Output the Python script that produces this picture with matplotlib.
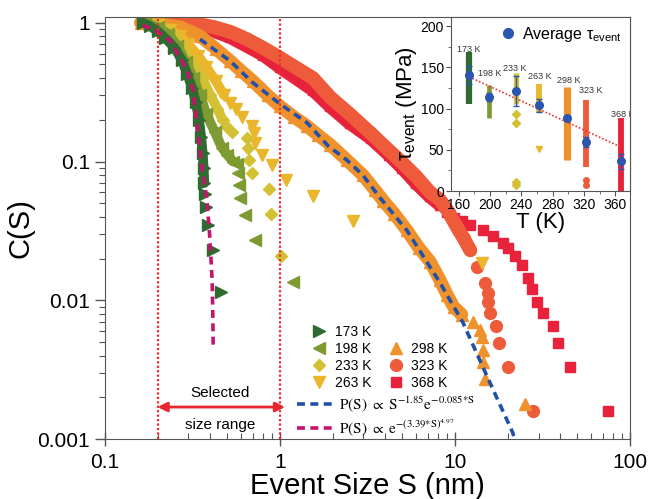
import numpy as np
import matplotlib
matplotlib.use('Agg')
import matplotlib.pyplot as plt
from matplotlib import ticker
from matplotlib.lines import Line2D

plt.rcParams['font.family'] = ['Liberation Sans', 'DejaVu Sans']
plt.rcParams['mathtext.fontset'] = 'custom'
plt.rcParams['mathtext.rm'] = 'Liberation Sans'
plt.rcParams['mathtext.it'] = 'Liberation Sans'
plt.rcParams['mathtext.bf'] = 'Liberation Sans:bold'

# ---- main panel: C(S) curves ----
# the first n_band points form the dense band, the rest are the sparse tail
s_173 = [0.165, 0.18, 0.2, 0.22, 0.25, 0.275, 0.295, 0.315, 0.33, 0.345, 0.355, 0.362, 0.367, 0.37,
         0.375, 0.38, 0.39, 0.415, 0.46]
c_173 = [1.0, 0.95, 0.87, 0.78, 0.66, 0.54, 0.43, 0.34, 0.27, 0.2, 0.15, 0.115, 0.09, 0.07,
         0.058, 0.047, 0.035, 0.023, 0.0115]
n_band_173 = 14

s_198 = [0.17, 0.2, 0.23, 0.26, 0.29, 0.32, 0.35, 0.38, 0.425, 0.466, 0.5, 0.54,
         0.57, 0.575, 0.58, 0.59, 0.63, 0.72, 1.19]
c_198 = [1.0, 0.93, 0.83, 0.68, 0.52, 0.4, 0.3, 0.22, 0.163, 0.126, 0.112, 0.1,
         0.096, 0.083, 0.068, 0.055, 0.041, 0.027, 0.0136]
n_band_198 = 12

s_233 = [0.175, 0.2, 0.23, 0.27, 0.32, 0.36, 0.4, 0.44, 0.47,
         0.49, 0.53, 0.65, 0.66, 0.67, 0.69, 0.87, 0.89, 1.01]
c_233 = [1.0, 0.95, 0.87, 0.71, 0.5, 0.4, 0.3, 0.24, 0.2,
         0.18, 0.163, 0.148, 0.126, 0.103, 0.083, 0.063, 0.042, 0.021]
n_band_233 = 9

s_263 = [0.17, 0.2, 0.235, 0.27, 0.3, 0.34, 0.38, 0.43, 0.48,
         0.52, 0.56, 0.61, 0.69, 0.71, 0.72, 0.79, 0.9, 1.09, 1.54, 2.6, 14.3]
c_263 = [1.0, 0.96, 0.89, 0.8, 0.7, 0.58, 0.48, 0.38, 0.3,
         0.265, 0.24, 0.21, 0.18, 0.16, 0.137, 0.112, 0.095, 0.074, 0.056, 0.037, 0.0187]
n_band_263 = 9

s_298 = [0.16, 0.2, 0.27, 0.35, 0.43, 0.52, 0.6, 0.7, 0.85, 1.0, 1.2, 1.43, 1.65, 1.94, 2.4,
         2.97, 3.5, 3.9, 4.5, 5.3, 6.2, 7.2, 8.2, 9.0, 9.8, 10.9,
         12.6, 13.9, 14.2, 14.4, 14.5, 14.8, 25.0]
c_298 = [1.0, 0.98, 0.93, 0.8, 0.65, 0.53, 0.45, 0.38, 0.3, 0.25, 0.21, 0.18, 0.155, 0.132, 0.103,
         0.08, 0.062, 0.052, 0.042, 0.032, 0.024, 0.019, 0.014, 0.011, 0.009, 0.0079,
         0.007, 0.0061, 0.0054, 0.0044, 0.0036, 0.0027, 0.0018]
n_band_298 = 26

s_323 = [0.18, 0.25, 0.34, 0.42, 0.52, 0.65, 0.8, 1.0, 1.25, 1.54, 1.94, 2.5, 3.3, 4.2, 5.0,
         6.0, 7.2, 8.2, 9.2, 10.2, 11.2, 12.2,
         13.4, 14.9, 15.5, 15.5, 15.8, 17.1, 17.8, 20.0, 27.7]
c_323 = [1.0, 1.0, 0.98, 0.93, 0.86, 0.76, 0.66, 0.56, 0.47, 0.4, 0.29, 0.22, 0.16, 0.12, 0.098,
         0.078, 0.06, 0.053, 0.043, 0.034, 0.028, 0.023,
         0.0175, 0.0134, 0.0113, 0.0097, 0.0081, 0.0065, 0.0049, 0.0033, 0.0016]
n_band_323 = 22

s_368 = [0.2, 0.35, 0.52, 0.8, 1.0, 1.54, 1.94, 2.5, 3.3, 4.2, 5.0, 6.0, 7.2, 8.2,
         9.0, 9.8, 11.0, 12.2, 14.5, 16.5, 18.8, 20.0, 22.0, 24.0, 26.0, 27.5, 29.3, 31.7,
         36.3, 38.8, 45.6, 74.9]
c_368 = [1.0, 0.95, 0.79, 0.59, 0.48, 0.33, 0.25, 0.19, 0.148, 0.112, 0.09, 0.07, 0.056, 0.049,
         0.043, 0.039, 0.037, 0.035, 0.032, 0.029, 0.026, 0.024, 0.021, 0.018, 0.0145, 0.012, 0.0097, 0.0081,
         0.0065, 0.0049, 0.0033, 0.0016]
n_band_368 = 14

# fit curves
s_fit_pl = [0.35, 0.52, 0.7, 1.0, 1.43, 1.88, 2.4, 2.97, 3.72, 5.3, 8.2, 11.1, 15.3, 21.3, 21.9]
c_fit_pl = [0.76, 0.53, 0.37, 0.26, 0.19, 0.13, 0.103, 0.08, 0.055, 0.032, 0.0134, 0.0069, 0.0028, 0.00112, 0.001]
s_fit_wb = [0.165, 0.2, 0.235, 0.26, 0.294, 0.318, 0.335, 0.358, 0.383, 0.398, 0.41, 0.414, 0.416]
c_fit_wb = [0.96, 0.86, 0.75, 0.6, 0.46, 0.33, 0.19, 0.092, 0.053, 0.028, 0.014, 0.0075, 0.0044]

select_range = [0.2, 1.0]

# ---- inset: tau_event vs T ----
inset_T = [173, 198, 233, 263, 298, 323, 368]
tau_hi = [168, 128, 143, 130, 126, 110, 89]
tau_lo = [106, 89, 106, 95, 38, 29, 0]
tau_avg = [141, 114, 121, 104, 89, 59, 36]
tau_err = [11, 5, 18, 8, 2, 6, 9]
out_T = [233, 233, 233, 233, 263, 323, 323]
out_tau = [94, 83, 11, 7, 51, 13, 7]
fit_T = [173, 368]
fit_tau = [138.5, 53]
label_T = [173, 199, 232, 263, 300, 329, 370]
label_tau = [172, 142, 149, 139, 134, 122, 93]

colors = {'173 K': '#2f6b30', '198 K': '#7d9a33', '233 K': '#d3c133', '263 K': '#e9b62c',
          '298 K': '#f0922c', '323 K': '#ee5b3b', '368 K': '#e8223a'}
markers = {'173 K': '>', '198 K': '<', '233 K': 'D', '263 K': 'v',
           '298 K': '^', '323 K': 'o', '368 K': 's'}
msizes = {'173 K': 8, '198 K': 8, '233 K': 6.5, '263 K': 8.5,
          '298 K': 8.5, '323 K': 8.5, '368 K': 7.5}

fig = plt.figure(figsize=(6.51, 4.99), dpi=100)
ax = fig.add_axes([0.161, 0.120, 0.807, 0.846])

series = [('368 K', s_368, c_368, n_band_368, 10),
          ('323 K', s_323, c_323, n_band_323, 10),
          ('298 K', s_298, c_298, n_band_298, 9.5),
          ('263 K', s_263, c_263, n_band_263, 7),
          ('233 K', s_233, c_233, n_band_233, 7),
          ('198 K', s_198, c_198, n_band_198, 7),
          ('173 K', s_173, c_173, n_band_173, 7)]
for lab, s, c, nb, bw in series:
    col = colors[lab]
    ax.plot(s[:nb], c[:nb], '-', color=col, lw=bw, solid_capstyle='round', solid_joinstyle='round')
    ax.plot(s, c, ls='none', marker=markers[lab], ms=msizes[lab], color=col, mec=col)

pl_line, = ax.plot(s_fit_pl, c_fit_pl, color='#2050a8', lw=2.6, dashes=(2.2, 1.5))
wb_line, = ax.plot(s_fit_wb, c_fit_wb, color='#c4136c', lw=2.6, dashes=(2.2, 1.5))

for x in select_range:
    ax.axvline(x, color='#ee2a2a', lw=1.6, ls=(0, (1, 1)))

trans = ax.get_xaxis_transform()
ax.annotate('', xy=(select_range[1] * 1.07, 0.076), xytext=(select_range[0], 0.076),
            xycoords=trans, textcoords=trans,
            arrowprops=dict(arrowstyle='<|-|>', color='#e8262e', lw=2, mutation_scale=14,
                            shrinkA=0, shrinkB=0))
ax.text(0.454, 0.11, 'Selected', transform=trans, ha='center', va='center', fontsize=11)
ax.text(0.454, 0.034, 'size range', transform=trans, ha='center', va='center', fontsize=11)

ax.set_xscale('log')
ax.set_yscale('log')
ax.set_xlim(0.1, 100)
ax.set_ylim(0.001, 1.1)
fmt = ticker.FuncFormatter(lambda v, _: f'{v:g}')
ax.xaxis.set_major_formatter(fmt)
ax.yaxis.set_major_formatter(fmt)
ax.xaxis.set_minor_formatter(ticker.NullFormatter())
ax.yaxis.set_minor_formatter(ticker.NullFormatter())
ax.tick_params(axis='y', which='major', direction='out', length=7, width=1, labelsize=15, color='#555555')
ax.tick_params(axis='y', which='minor', direction='out', length=4, width=0.8, color='#555555')
ax.tick_params(axis='x', which='major', direction='inout', length=10, width=1, labelsize=15,
               pad=5, color='#555555')
ax.tick_params(axis='x', which='minor', direction='in', length=4, width=0.8, color='#555555')
for sp in ax.spines.values():
    sp.set_color('#555555')
ax.set_xlabel('Event Size S (nm)', fontsize=21, labelpad=0)
ax.set_ylabel('C(S)', fontsize=21, labelpad=2)

# legends
order = ['173 K', '198 K', '233 K', '263 K', None, '298 K', '323 K', '368 K']
handles, labels = [], []
for lab in order:
    if lab is None:
        handles.append(Line2D([], [], ls='none'))
        labels.append('')
    else:
        handles.append(Line2D([], [], ls='none', marker=markers[lab], ms=msizes[lab],
                              color=colors[lab]))
        labels.append(lab)
leg1 = ax.legend(handles, labels, ncol=2, loc='upper left', bbox_to_anchor=(0.395, 0.27),
                 frameon=False, fontsize=10, handlelength=1.0, handletextpad=0.6,
                 columnspacing=1.3, labelspacing=0.22, borderaxespad=0, borderpad=0)
ax.add_artist(leg1)
leg2 = ax.legend([pl_line, wb_line],
                 [r'$\mathrm{P(S)}\ \propto\ \mathrm{S}^{-1.85}\mathrm{e}^{-0.085{*}\mathrm{S}}$',
                  r'$\mathrm{P(S)}\ \propto\ \mathrm{e}^{-(3.39{*}\mathrm{S})^{4.97}}$'],
                 loc='upper left', bbox_to_anchor=(0.365, 0.107), frameon=False, fontsize=11,
                 handlelength=2.6, handletextpad=0.15, labelspacing=0.25,
                 borderaxespad=0, borderpad=0)
for t in leg2.get_texts():
    t.set_math_fontfamily('stix')

# inset
ax2 = fig.add_axes([0.6928, 0.6172, 0.275, 0.3487])
ax2.set_facecolor('white')
strip_cols = [colors[f'{t} K'] for t in inset_T]
strip_w = [4.5, 3.4, 3.8, 4.2, 5.2, 4.2, 4.2]
ax2.vlines(inset_T, tau_lo, tau_hi, colors=strip_cols, lw=strip_w)
for t, v in zip(out_T, out_tau):
    ax2.plot(t, v, ls='none', marker=markers[f'{t} K'], ms=4, color=colors[f'{t} K'])
ax2.plot(fit_T, fit_tau, ls=(0, (1, 1.2)), color='#ee3333', lw=1.2)
ax2.errorbar(inset_T, tau_avg, yerr=tau_err, fmt='o', color='#2a55b0', ms=5.5,
             capsize=2, elinewidth=1, capthick=1, zorder=5)
for t, v, lab in zip(label_T, label_tau, [f'{t} K' for t in inset_T]):
    ax2.text(t, v, lab, fontsize=6.5, ha='center', va='center', color='#333333', clip_on=True)
avg_proxy = Line2D([], [], ls='none', marker='o', ms=7, color='#2a55b0')
ax2.legend([avg_proxy], [r'Average $\tau_{\mathrm{event}}$'], loc='upper right', frameon=False,
           fontsize=11.5, handlelength=1.0, handletextpad=0.4, borderaxespad=0.3, borderpad=0.2)
ax2.set_xlim(150, 379)
ax2.set_ylim(0, 211)
ax2.set_xticks([160, 200, 240, 280, 320, 360])
ax2.set_yticks([0, 50, 100, 150, 200])
ax2.xaxis.set_minor_locator(ticker.MultipleLocator(20))
ax2.yaxis.set_minor_locator(ticker.MultipleLocator(25))
ax2.tick_params(which='major', direction='out', length=3.5, width=0.8, labelsize=10, pad=1.5,
                color='#555555')
ax2.tick_params(which='minor', direction='out', length=2, width=0.6, color='#555555')
for sp in ax2.spines.values():
    sp.set_color('#555555')
ax2.set_xlabel('T (K)', fontsize=16, labelpad=0)
ax2.set_ylabel(r'$\tau_{\mathrm{event}}$ (MPa)', fontsize=16, labelpad=1)

fig.savefig('out.png', dpi=100)
